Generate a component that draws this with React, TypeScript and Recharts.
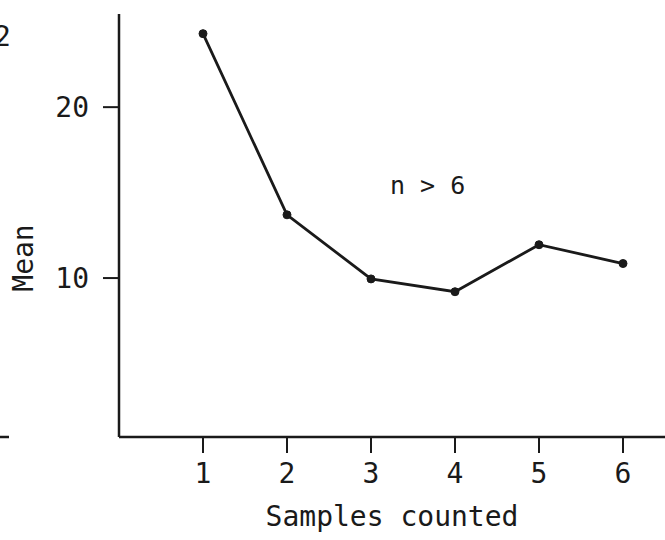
import { LineChart, Line, XAxis, YAxis } from "recharts"

const samples = [1, 2, 3, 4, 5, 6]
const means = [24.3, 13.7, 9.95, 9.2, 11.95, 10.85]
const xTicks = [1, 2, 3, 4, 5, 6]
const yTicks = [10, 20]

const data = samples.map((s, i) => ({ samples: s, mean: means[i] }))

const ink = "#1a1a1a"
const font = "'DejaVu Sans Mono', monospace"

function Notes() {
  return (
    <g fontFamily={font} fill={ink}>
      <text x={390} y={194} fontSize={25}>n &gt; 6</text>
      {/* bits of the neighbouring chart cut off on the left */}
      <text x={-6} y={46} fontSize={28}>2</text>
      <line x1={0} y1={437} x2={9} y2={437} stroke={ink} strokeWidth={2.5} />
    </g>
  )
}

export default function App() {
  return (
    <div style={{ position: "absolute", left: 0, top: 0, background: "#fff" }}>
      <LineChart
        width={665}
        height={540}
        data={data}
        margin={{ top: 14, right: 0, bottom: 0, left: 0 }}
      >
        <XAxis
          type="number"
          dataKey="samples"
          domain={[0, 6.5]}
          ticks={xTicks}
          height={103}
          tickSize={16}
          tickMargin={10}
          axisLine={{ stroke: ink, strokeWidth: 2.5 }}
          tickLine={{ stroke: ink, strokeWidth: 2 }}
          tick={{ fill: ink, fontSize: 28, fontFamily: font }}
          label={{
            value: "Samples counted",
            position: "insideBottom",
            offset: 14,
            fill: ink,
            fontSize: 28,
            fontFamily: font,
          }}
        />
        <YAxis
          type="number"
          domain={[0.7, 25.45]}
          allowDataOverflow
          ticks={yTicks}
          width={119}
          tickSize={16}
          tickMargin={14}
          axisLine={{ stroke: ink, strokeWidth: 2.5 }}
          tickLine={{ stroke: ink, strokeWidth: 2 }}
          tick={{ fill: ink, fontSize: 28, fontFamily: font }}
          label={{
            content: () => (
              <text
                x={23}
                y={258}
                transform="rotate(-90 23 258)"
                textAnchor="middle"
                dominantBaseline="central"
                fontSize={28}
                fontFamily={font}
                fill={ink}
              >
                Mean
              </text>
            ),
          }}
        />
        <Line
          type="linear"
          dataKey="mean"
          stroke={ink}
          strokeWidth={2.8}
          dot={{ r: 4, fill: ink, stroke: ink, strokeWidth: 1 }}
          isAnimationActive={false}
        />
        <Notes />
      </LineChart>
    </div>
  )
}
